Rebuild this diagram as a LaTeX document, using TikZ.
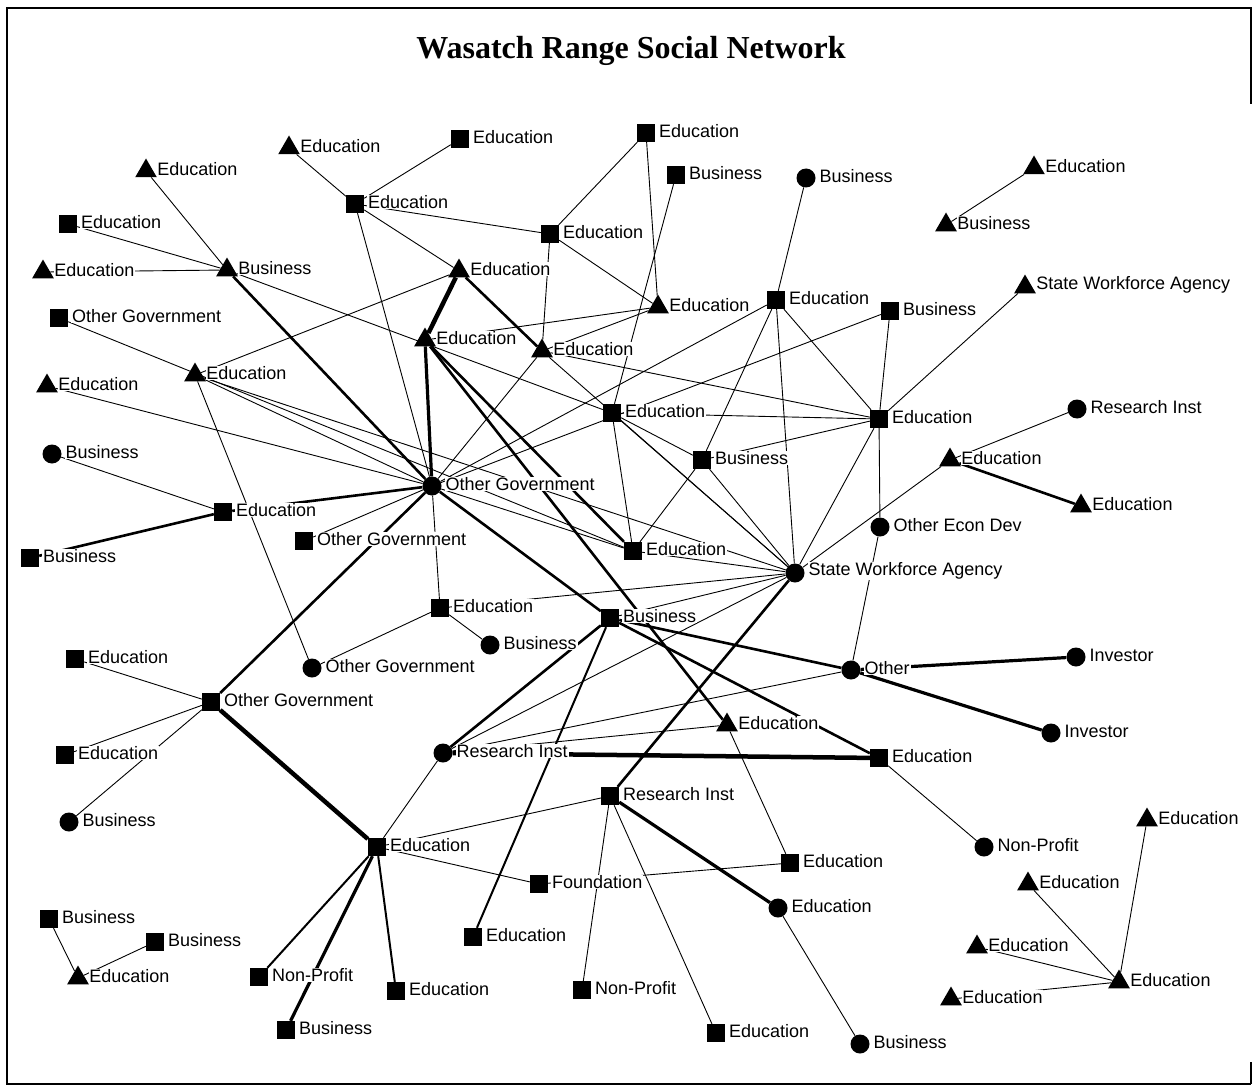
\documentclass[tikz,border=0pt]{standalone}
\usepackage{fontspec}
\setmainfont{Liberation Sans}
\newfontfamily\titleserif{Liberation Serif}
\usetikzlibrary{shapes.geometric,backgrounds}

\begin{document}
\begin{tikzpicture}[x=1pt,y=-1pt,
  lbl/.style={font=\fontsize{18}{20}\selectfont,fill=white,inner sep=0.8pt,xshift=3pt,yshift=2pt},
  sq/.style={rectangle,fill=black,minimum size=18pt,inner sep=0pt,label distance=1pt},
  cir/.style={circle,fill=black,minimum size=19pt,inner sep=0pt,label distance=0.5pt},
  tri/.style={regular polygon,regular polygon sides=3,fill=black,minimum size=25pt,inner sep=0pt,label distance=2.5pt},
  tie/.style={line width=0.9pt},
  tiemid/.style={line width=2pt},
  tiethick/.style={line width=2.6pt},
  tieheavy/.style={line width=3.2pt},
  tiemax/.style={line width=4.5pt}]
  \useasboundingbox (0,0) rectangle (1255,1086);
  % frame and title
  \draw[line width=1.4pt] (1251,104) -- (1251,8) -- (7,8) -- (7,1084) -- (1251,1084);
  \draw[line width=1.4pt] (1251,1062) -- (1251,1084);
  \node[font=\titleserif\bfseries\fontsize{32}{36}\selectfont] (title) at (631,51) {Wasatch Range Social Network};
  % square actors
  \node[sq,label={[lbl]right:Education}] (edu2) at (68,224) {};
  \node[sq,label={[lbl]right:Other Government}] (og1) at (59,318) {};
  \node[sq,label={[lbl]right:Education}] (edu9) at (223,512) {};
  \node[sq,label={[lbl]right:Business}] (bus10) at (30,558) {};
  \node[sq,label={[lbl]right:Education}] (edu12) at (355,204) {};
  \node[sq,label={[lbl]right:Education}] (edu13) at (460,139) {};
  \node[sq,label={[lbl]right:Education}] (edu14) at (646,133) {};
  \node[sq,label={[lbl]right:Business}] (bus15) at (676,175) {};
  \node[sq,label={[lbl]right:Education}] (edu19) at (550,234) {};
  \node[sq,label={[lbl]right:Education}] (edu22) at (776,300) {};
  \node[sq,label={[lbl]right:Business}] (bus23) at (890,311) {};
  \node[sq,label={[lbl]right:Education}] (edu27) at (612,413) {};
  \node[sq,label={[lbl]right:Education}] (edu28) at (879,419) {};
  \node[sq,label={[lbl]right:Business}] (bus32) at (702,460) {};
  \node[sq,label={[lbl]right:Other Government}] (og35) at (304,541) {};
  \node[sq,label={[lbl]right:Education}] (edu36) at (633,551) {};
  \node[sq,label={[lbl]right:Education}] (edu38) at (440,608) {};
  \node[sq,label={[lbl]right:Business}] (bus39) at (610,618) {};
  \node[sq,label={[lbl]right:Education}] (edu42) at (75,659) {};
  \node[sq,label={[lbl]right:Other Government}] (og43) at (211,702) {};
  \node[sq,label={[lbl]right:Education}] (edu49) at (65,755) {};
  \node[sq,label={[lbl]right:Education}] (edu50) at (879,758) {};
  \node[sq,label={[lbl]right:Research Inst}] (ri52) at (610,796) {};
  \node[sq,label={[lbl]right:Education}] (edu53) at (377,847) {};
  \node[sq,label={[lbl]right:Education}] (edu56) at (790,863) {};
  \node[sq,label={[lbl]right:Foundation}] (fnd57) at (539,884) {};
  \node[sq,label={[lbl]right:Business}] (bus60) at (49,919) {};
  \node[sq,label={[lbl]right:Business}] (bus61) at (155,942) {};
  \node[sq,label={[lbl]right:Education}] (edu62) at (473,937) {};
  \node[sq,label={[lbl]right:Non-Profit}] (np65) at (259,977) {};
  \node[sq,label={[lbl]right:Education}] (edu67) at (396,991) {};
  \node[sq,label={[lbl]right:Non-Profit}] (np68) at (582,990) {};
  \node[sq,label={[lbl]right:Business}] (bus70) at (286,1030) {};
  \node[sq,label={[lbl]right:Education}] (edu71) at (716,1033) {};
  % circle actors
  \node[cir,label={[lbl]right:Business}] (bus8) at (52,454) {};
  \node[cir,label={[lbl]right:Business}] (bus16) at (806,178) {};
  \node[cir,label={[lbl]right:Research Inst}] (ri29) at (1077,409) {};
  \node[cir,label={[lbl]right:Other Government}] (hub) at (432,486) {};
  \node[cir,label={[lbl]right:Other Econ Dev}] (oed34) at (880,527) {};
  \node[cir,label={[lbl]right:State Workforce Agency}] (swa37) at (795,573) {};
  \node[cir,label={[lbl]right:Business}] (bus40) at (490,645) {};
  \node[cir,label={[lbl]right:Other Government}] (og41) at (312,668) {};
  \node[cir,label={[lbl]right:Other}] (oth44) at (851,670) {};
  \node[cir,label={[lbl]right:Investor}] (inv45) at (1076,657) {};
  \node[cir,label={[lbl]right:Investor}] (inv46) at (1051,733) {};
  \node[cir,label={[lbl]right:Research Inst}] (ri48) at (443,753) {};
  \node[cir,label={[lbl]right:Business}] (bus51) at (69,822) {};
  \node[cir,label={[lbl]right:Non-Profit}] (np54) at (984,847) {};
  \node[cir,label={[lbl]right:Education}] (edu59) at (778,908) {};
  \node[cir,label={[lbl]right:Business}] (bus72) at (860,1044) {};
  % triangle actors
  \node[tri,label={[lbl]right:Education}] (edu1) at (146,171) {};
  \node[tri,label={[lbl]right:Education}] (edu3) at (43,272) {};
  \node[tri,label={[lbl]right:Business}] (bus4) at (227,270) {};
  \node[tri,label={[lbl]right:Education}] (edu6) at (195,375) {};
  \node[tri,label={[lbl]right:Education}] (edu7) at (47,386) {};
  \node[tri,label={[lbl]right:Education}] (edu11) at (289,148) {};
  \node[tri,label={[lbl]right:Education}] (edu17) at (1034,168) {};
  \node[tri,label={[lbl]right:Business}] (bus18) at (946,225) {};
  \node[tri,label={[lbl]right:Education}] (edu20) at (459,271) {};
  \node[tri,label={[lbl]right:Education}] (edu21) at (658,307) {};
  \node[tri,label={[lbl]right:State Workforce Agency}] (swa24) at (1025,287) {};
  \node[tri,label={[lbl]right:Education}] (edu25) at (425,340) {};
  \node[tri,label={[lbl]right:Education}] (edu26) at (542,351) {};
  \node[tri,label={[lbl]right:Education}] (edu30) at (950,460) {};
  \node[tri,label={[lbl]right:Education}] (edu31) at (1081,506) {};
  \node[tri,label={[lbl]right:Education}] (edu47) at (727,725) {};
  \node[tri,label={[lbl]right:Education}] (edu55) at (1147,820) {};
  \node[tri,label={[lbl]right:Education}] (edu58) at (1028,884) {};
  \node[tri,label={[lbl]right:Education}] (edu63) at (977,947) {};
  \node[tri,label={[lbl]right:Education}] (edu64) at (78,978) {};
  \node[tri,label={[lbl]right:Education}] (edu66) at (1119,982) {};
  \node[tri,label={[lbl]right:Education}] (edu69) at (951,999) {};
  % ties, behind the actors and their labels
  \begin{scope}[on background layer]
    % weak ties
    \draw[tie] (edu1) -- (bus4);
    \draw[tie] (edu2) -- (bus4);
    \draw[tie] (edu3) -- (bus4);
    \draw[tie] (bus4) -- (edu27);
    \draw[tie] (og1) -- (edu36);
    \draw[tie] (edu6) -- (edu20);
    \draw[tie] (edu6) -- (hub);
    \draw[tie] (edu6) -- (swa37);
    \draw[tie] (edu6) -- (og41);
    \draw[tie] (edu7) -- (hub);
    \draw[tie] (bus8) -- (edu9);
    \draw[tie] (edu11) -- (edu12);
    \draw[tie] (edu13) -- (edu12);
    \draw[tie] (edu12) -- (edu19);
    \draw[tie] (edu12) -- (edu20);
    \draw[tie] (edu12) -- (hub);
    \draw[tie] (edu19) -- (edu14);
    \draw[tie] (edu19) -- (edu21);
    \draw[tie] (edu19) -- (edu26);
    \draw[tie] (edu25) -- (edu21);
    \draw[tie] (edu26) -- (edu21);
    \draw[tie] (edu26) -- (hub);
    \draw[tie] (edu26) -- (edu28);
    \draw[tie] (edu26) -- (swa37);
    \draw[tie] (edu14) -- (edu21);
    \draw[tie] (bus15) -- (edu27);
    \draw[tie] (bus16) -- (edu22);
    \draw[tie] (edu22) -- (edu28);
    \draw[tie] (edu22) -- (swa37);
    \draw[tie] (edu22) -- (bus32);
    \draw[tie] (edu22) -- (hub);
    \draw[tie] (bus23) -- (hub);
    \draw[tie] (bus23) -- (edu28);
    \draw[tie] (swa24) -- (edu28);
    \draw[tie] (edu17) -- (bus18);
    \draw[tie] (ri29) -- (edu30);
    \draw[tie] (edu30) -- (swa37);
    \draw[tie] (edu28) -- (oed34);
    \draw[tie] (edu28) -- (swa37);
    \draw[tie] (edu28) -- (edu27);
    \draw[tie] (edu28) -- (bus32);
    \draw[tie] (edu27) -- (edu36);
    \draw[tie] (edu27) -- (swa37);
    \draw[tie] (edu27) -- (bus32);
    \draw[tie] (bus32) -- (swa37);
    \draw[tie] (bus32) -- (edu36);
    \draw[tie] (edu36) -- (swa37);
    \draw[tie] (hub) -- (edu36);
    \draw[tie] (hub) -- (edu38);
    \draw[tie] (og35) -- (hub);
    \draw[tie] (edu38) -- (bus40);
    \draw[tie] (edu38) -- (og41);
    \draw[tie] (edu38) -- (swa37);
    \draw[tie] (bus39) -- (swa37);
    \draw[tie] (ri48) -- (swa37);
    \draw[tie] (ri48) -- (oth44);
    \draw[tie] (ri48) -- (edu47);
    \draw[tie] (ri48) -- (edu53);
    \draw[tie] (oed34) -- (oth44);
    \draw[tie] (edu47) -- (edu56);
    \draw[tie] (edu50) -- (np54);
    \draw[tie] (ri52) -- (edu53);
    \draw[tie] (ri52) -- (np68);
    \draw[tie] (ri52) -- (edu71);
    \draw[tie] (edu53) -- (fnd57);
    \draw[tie] (fnd57) -- (edu56);
    \draw[tie] (edu59) -- (bus72);
    \draw[tie] (og43) -- (edu42);
    \draw[tie] (og43) -- (edu49);
    \draw[tie] (og43) -- (bus51);
    \draw[tie] (bus60) -- (edu64);
    \draw[tie] (bus61) -- (edu64);
    \draw[tie] (edu66) -- (edu55);
    \draw[tie] (edu66) -- (edu58);
    \draw[tie] (edu66) -- (edu63);
    \draw[tie] (edu66) -- (edu69);
    % stronger ties
    \draw[tiemid] (bus39) -- (edu62);
    \draw[tiemid] (edu53) -- (np65);
    \draw[tiemid] (edu53) -- (edu67);
    \draw[tiethick] (bus4) -- (hub);
    \draw[tiethick] (edu9) -- (hub);
    \draw[tiethick] (bus10) -- (edu9);
    \draw[tiethick] (og43) -- (hub);
    \draw[tiethick] (edu20) -- (edu26);
    \draw[tiethick] (edu25) -- (edu36);
    \draw[tiethick] (edu25) -- (edu47);
    \draw[tiethick] (hub) -- (bus39);
    \draw[tiethick] (bus39) -- (oth44);
    \draw[tiethick] (bus39) -- (edu50);
    \draw[tiethick] (bus39) -- (ri48);
    \draw[tiethick] (swa37) -- (ri52);
    \draw[tiethick] (edu30) -- (edu31);
    \draw[tieheavy] (edu25) -- (hub);
    \draw[tieheavy] (oth44) -- (inv45);
    \draw[tieheavy] (oth44) -- (inv46);
    \draw[tieheavy] (ri52) -- (edu59);
    \draw[tieheavy] (edu53) -- (bus70);
    \draw[tiemax] (og43) -- (edu53);
    \draw[tiemax] (edu20) -- (edu25);
    \draw[tiemax] (ri48) -- (edu50);
  \end{scope}
\end{tikzpicture}
\end{document}
